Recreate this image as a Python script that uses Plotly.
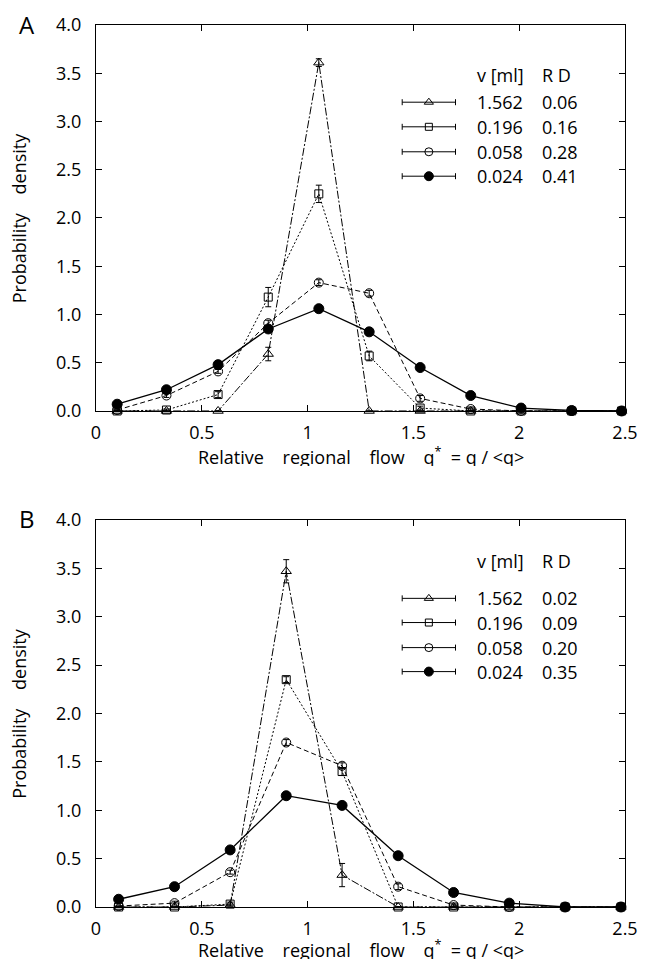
import plotly.graph_objects as go

# panel A
qa = [0.10, 0.333, 0.577, 0.814, 1.053, 1.291, 1.532, 1.771, 2.009, 2.248, 2.484]
a_tri = [0.0, 0.0, 0.0, 0.59, 3.61, 0.0, 0.0, 0.0, 0.0, 0.0, 0.0]
a_tri_err = [0, 0, 0, 0.07, 0.04, 0, 0, 0, 0, 0, 0]
a_sq = [0.0, 0.01, 0.17, 1.18, 2.25, 0.57, 0.03, 0.0, 0.0, 0.0, 0.0]
a_sq_err = [0, 0.01, 0.03, 0.10, 0.09, 0.05, 0.02, 0, 0, 0, 0]
a_ci = [0.01, 0.16, 0.41, 0.91, 1.33, 1.22, 0.13, 0.02, 0.0, 0.0, 0.0]
a_ci_err = [0, 0.02, 0.02, 0.03, 0.03, 0.03, 0.03, 0.01, 0, 0, 0]
a_fc = [0.07, 0.22, 0.48, 0.85, 1.06, 0.82, 0.45, 0.16, 0.03, 0.005, 0.0]
a_fc_err = [0.01, 0.01, 0.01, 0.01, 0.01, 0.01, 0.01, 0.01, 0.01, 0, 0]
a_rd = ["0.06", "0.16", "0.28", "0.41"]

# panel B
qb = [0.107, 0.371, 0.634, 0.899, 1.163, 1.428, 1.690, 1.953, 2.217, 2.481]
b_tri = [0.0, 0.0, 0.02, 3.47, 0.33, 0.0, 0.0, 0.0, 0.0, 0.0]
b_tri_err = [0, 0, 0.01, 0.12, 0.12, 0, 0, 0, 0, 0]
b_sq = [0.0, 0.0, 0.03, 2.35, 1.40, 0.0, 0.0, 0.0, 0.0, 0.0]
b_sq_err = [0, 0, 0.02, 0.03, 0.04, 0, 0, 0, 0, 0]
b_ci = [0.01, 0.04, 0.36, 1.70, 1.46, 0.21, 0.02, 0.0, 0.0, 0.0]
b_ci_err = [0, 0.02, 0.02, 0.03, 0.03, 0.03, 0.01, 0, 0, 0]
b_fc = [0.08, 0.21, 0.59, 1.15, 1.05, 0.53, 0.15, 0.04, 0.0, 0.0]
b_fc_err = [0.01, 0.01, 0.01, 0.01, 0.01, 0.01, 0.01, 0.01, 0, 0]
b_rd = ["0.02", "0.09", "0.20", "0.35"]

volumes = ["1.562", "0.196", "0.058", "0.024"]
symbols = ["triangle-up-open", "square-open", "circle-open", "circle"]
dashes = ["8px,2px,2px,2px", "2px,2px", "5px,3px", "solid"]
sizes = [9, 8, 9, 10]
widths = [1, 1, 1, 1.3]

FONT = "Open Sans, Noto Sans, sans-serif"

# legend placement (data coords)
leg_x = 1.573
leg_half = 0.126
a_leg_y = [3.20, 2.945, 2.686, 2.433]
b_leg_y = [3.19, 2.94, 2.681, 2.433]
a_head_y = 3.478
b_head_y = 3.571

fig = go.Figure()


def add_panel(q, series, errs, leg_y, xa, ya):
    for i, (vals, err) in enumerate(zip(series, errs)):
        fig.add_trace(go.Scatter(
            x=q, y=vals, mode="lines+markers", xaxis=xa, yaxis=ya,
            line=dict(color="black", width=widths[i], dash=dashes[i]),
            marker=dict(symbol=symbols[i], size=sizes[i], color="black",
                        line=dict(color="black", width=1)),
            error_y=dict(type="data", array=err, color="black", thickness=1, width=3),
            cliponaxis=False, showlegend=False, hoverinfo="skip"))
        # legend key
        fig.add_trace(go.Scatter(
            x=[leg_x], y=[leg_y[i]], mode="markers", xaxis=xa, yaxis=ya,
            marker=dict(symbol=symbols[i], size=sizes[i] - 1, color="black",
                        line=dict(color="black", width=1)),
            error_x=dict(type="constant", value=leg_half, color="black", thickness=1, width=3),
            showlegend=False, hoverinfo="skip"))


add_panel(qa, [a_tri, a_sq, a_ci, a_fc], [a_tri_err, a_sq_err, a_ci_err, a_fc_err],
          a_leg_y, "x", "y")
add_panel(qb, [b_tri, b_sq, b_ci, b_fc], [b_tri_err, b_sq_err, b_ci_err, b_fc_err],
          b_leg_y, "x2", "y2")

annotations = []


def legend_text(rd, leg_y, head_y, xr, yr):
    annotations.append(dict(x=1.793, y=head_y, xref=xr, yref=yr, text="v [ml]",
                            showarrow=False, xanchor="left", yanchor="middle"))
    annotations.append(dict(x=2.096, y=head_y, xref=xr, yref=yr, text="R D",
                            showarrow=False, xanchor="left", yanchor="middle"))
    for v, r, yy in zip(volumes, rd, leg_y):
        annotations.append(dict(x=1.789, y=yy, xref=xr, yref=yr, text=v,
                                showarrow=False, xanchor="left", yanchor="middle"))
        annotations.append(dict(x=2.096, y=yy, xref=xr, yref=yr, text=r,
                                showarrow=False, xanchor="left", yanchor="middle"))


legend_text(a_rd, a_leg_y, a_head_y, "x", "y")
legend_text(b_rd, b_leg_y, b_head_y, "x2", "y2")

gap = "\u00a0" * 4
xtitle = ("Relative" + gap + "regional" + gap + "flow" + gap +
          "q<sup>*</sup>\u00a0\u00a0= q / &lt;q&gt;")
ytitle = "Probability" + gap + "density"

for xd, yd, lab, shift in [("x domain", "y domain", "A", -45),
                           ("x2 domain", "y2 domain", "B", -42)]:
    annotations.append(dict(x=-0.131, y=1.0, yshift=1, xref=xd, yref=yd, text=lab,
                            showarrow=False, xanchor="center", yanchor="middle",
                            font=dict(size=24)))
    annotations.append(dict(x=0.5, y=0, yshift=shift, xref=xd, yref=yd, text=xtitle,
                            height=20, showarrow=False, xanchor="center", yanchor="middle"))
    annotations.append(dict(x=-0.145, y=0.5, xref=xd, yref=yd, text=ytitle, textangle=-90,
                            showarrow=False, xanchor="center", yanchor="middle"))

xaxis_style = dict(range=[0, 2.5], tickvals=[0, 0.5, 1, 1.5, 2, 2.5],
                   ticktext=["0", "0.5", "1", "1.5", "2", "2.5"],
                   ticks="inside", ticklen=6, tickcolor="black", showline=True,
                   linecolor="black", linewidth=1, mirror="ticks", showgrid=False,
                   zeroline=False, ticklabelstandoff=5)
yaxis_style = dict(range=[0, 4.0], tickvals=[0, 0.5, 1, 1.5, 2, 2.5, 3, 3.5, 4],
                   tickformat=".1f", ticks="inside", ticklen=6, tickcolor="black",
                   showline=True, linecolor="black", linewidth=1, mirror="ticks",
                   showgrid=False, zeroline=False, ticklabelstandoff=10)

fig.update_layout(
    width=650, height=961,
    margin=dict(l=96, r=17, t=25, b=54),
    paper_bgcolor="white", plot_bgcolor="white",
    font=dict(family=FONT, size=18, color="black"),
    xaxis=dict(domain=[0, 1], anchor="y", **xaxis_style),
    yaxis=dict(domain=[0.5624, 1], anchor="x", **yaxis_style),
    xaxis2=dict(domain=[0, 1], anchor="y2", **xaxis_style),
    yaxis2=dict(domain=[0, 0.4388], anchor="x2", **yaxis_style),
    annotations=annotations,
    showlegend=False,
)

fig.write_html("out.html", config={"displayModeBar": False},
               post_script="document.body.style.margin='0';document.body.style.overflow='hidden';")
